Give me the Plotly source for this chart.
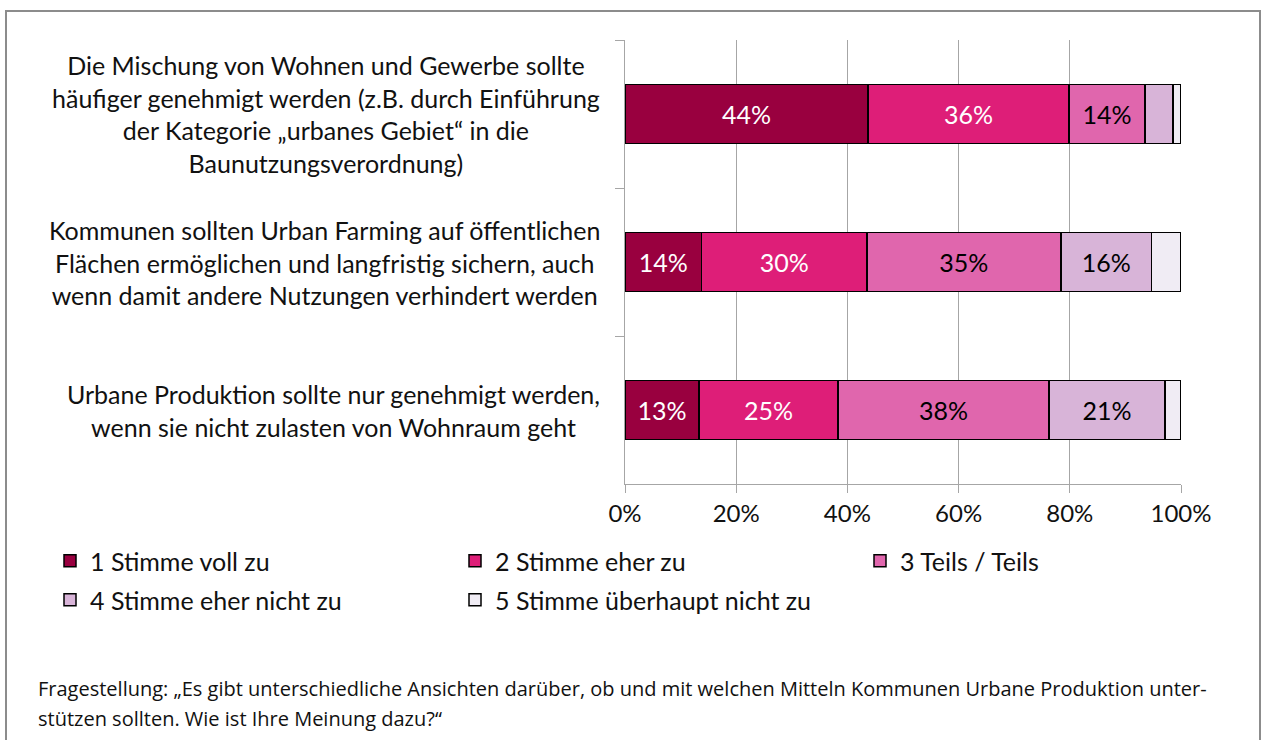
import plotly.graph_objects as go

questions = [
    "Die Mischung von Wohnen und Gewerbe sollte<br>häufiger genehmigt werden (z.B. durch Einführung<br>der Kategorie „urbanes Gebiet“ in die<br>Baunutzungsverordnung)",
    "Kommunen sollten Urban Farming auf öffentlichen<br>Flächen ermöglichen und langfristig sichern, auch<br>wenn damit andere Nutzungen verhindert werden",
    "Urbane Produktion sollte nur genehmigt werden,<br>wenn sie nicht zulasten von Wohnraum geht",
]
categories = ["Q1", "Q2", "Q3"]
series_names = [
    "1 Stimme voll zu",
    "2 Stimme eher zu",
    "3 Teils / Teils",
    "4 Stimme eher nicht zu",
    "5 Stimme überhaupt nicht zu",
]
voll_zu = [43.7, 13.8, 13.3]
eher_zu = [36.2, 29.7, 25.0]
teils = [13.6, 34.9, 38.0]
eher_nicht = [5.1, 16.3, 20.8]
ueberhaupt_nicht = [1.4, 5.3, 2.9]
series_values = [voll_zu, eher_zu, teils, eher_nicht, ueberhaupt_nicht]
colors = ["#99003F", "#DE1E78", "#E066AD", "#D8B4D8", "#F0ECF4"]
text_colors = ["white", "white", "black", "black", "black"]
legend_ids = ["legend", "legend", "legend", "legend2", "legend2"]
x_ticks = [0, 20, 40, 60, 80, 100]
footnote_lines = [
    "Fragestellung: „Es gibt unterschiedliche Ansichten darüber, ob und mit welchen Mitteln Kommunen Urbane Produktion unter-",
    "stützen sollten. Wie ist Ihre Meinung dazu?“",
]

FONT = "Lato, Open Sans, sans-serif"
NOTE_FONT = "Open Sans, sans-serif"
W, H = 1261, 740
L, R, T, B = 625, 0, 40, 256
PLOT_RIGHT = 1181
gw, ph = W - L - R, H - T - B

def px(x):
    return (x - L) / gw

def py(y):
    return (H - B - y) / ph

fig = go.Figure()
for name, vals, col, tcol, lg in zip(series_names, series_values, colors, text_colors, legend_ids):
    fig.add_trace(go.Bar(
        y=categories, x=vals, name=name, orientation="h",
        marker=dict(color=col, line=dict(color="black", width=1.5)),
        text=[f"{round(v)}%" if v >= 10 else "" for v in vals],
        textposition="inside", insidetextanchor="middle",
        textfont=dict(color=tcol, size=25, family=FONT),
        legend=lg, hoverinfo="skip",
    ))

for cat, q in zip(categories, questions):
    fig.add_annotation(x=0, y=cat, xref="paper", yref="y", text=q, showarrow=False,
                       xanchor="right", yanchor="middle", align="center", xshift=-23,
                       font=dict(size=25, color="#111111", family=FONT))

for i, line in enumerate(footnote_lines):
    fig.add_annotation(x=px(36), y=py(688 + 30 * i), xref="paper", yref="paper", text=line,
                       showarrow=False, xanchor="left", yanchor="middle", align="left",
                       font=dict(size=20, color="#111111", family=NOTE_FONT))

fig.add_shape(type="rect", xref="paper", yref="paper",
              x0=px(6), x1=px(1260), y0=py(760), y1=py(11),
              line=dict(color="#8c8c8c", width=2), layer="below")

legend_common = dict(orientation="h", xanchor="left", yanchor="middle",
                     entrywidth=360, entrywidthmode="pixels", traceorder="normal",
                     font=dict(size=25, color="#111111", family=FONT), itemclick=False,
                     bgcolor="rgba(0,0,0,0)")

fig.update_layout(
    width=W, height=H, barmode="stack", bargap=0.6,
    margin=dict(l=L, r=R, t=T, b=B, autoexpand=False),
    paper_bgcolor="white", plot_bgcolor="white",
    font=dict(family=FONT, size=24, color="#111111"),
    xaxis=dict(domain=[0, (PLOT_RIGHT - L) / gw], range=[0, 100],
               tickvals=x_ticks, ticktext=[f"{v}%" for v in x_ticks],
               showgrid=True, gridcolor="#a6a6a6", gridwidth=1,
               showline=True, linecolor="#a6a6a6", linewidth=1,
               ticks="outside", ticklen=8, tickcolor="#a6a6a6",
               tickfont=dict(size=24, color="#111111"), zeroline=False),
    yaxis=dict(autorange="reversed", showticklabels=False,
               showline=True, linecolor="#a6a6a6", linewidth=1,
               ticks="outside", ticklen=9, tickcolor="#a6a6a6",
               tickson="boundaries", showgrid=False),
    showlegend=True,
    legend=dict(x=px(50), y=py(561), **legend_common),
    legend2=dict(x=px(50), y=py(600), **legend_common),
)

fig.write_html("out.html", config={"displayModeBar": False},
               post_script="document.body.style.margin='0px';")
